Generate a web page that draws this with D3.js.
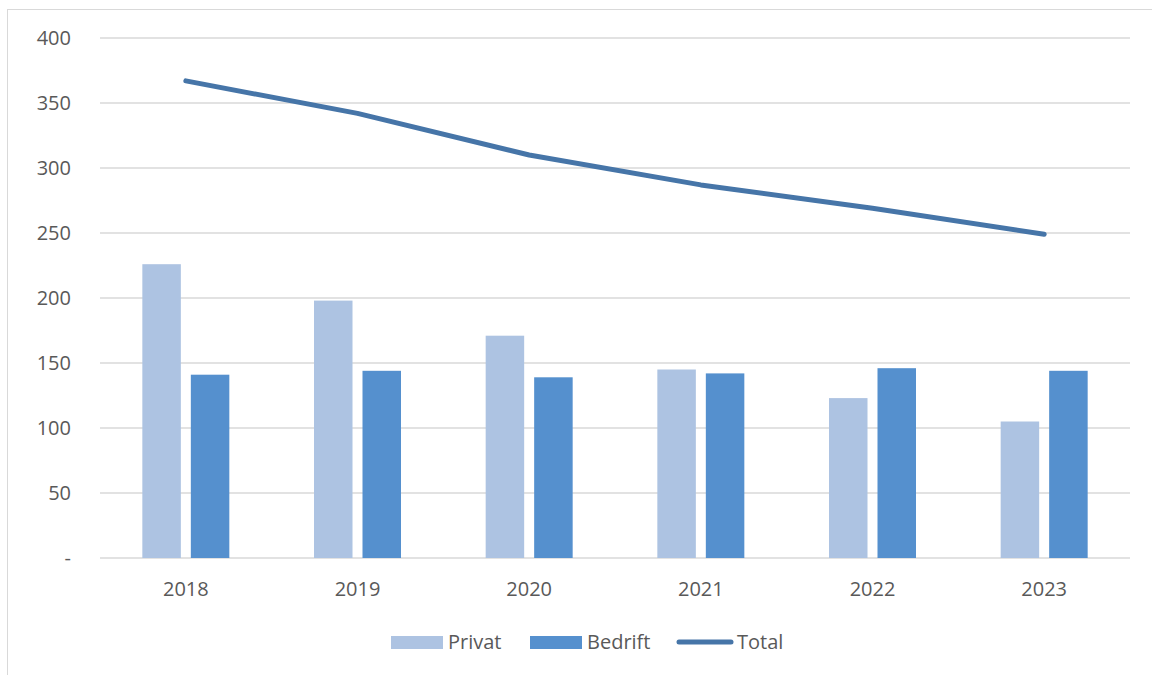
<!DOCTYPE html>
<html>
<head>
<meta charset="utf-8">
<script src="https://cdn.jsdelivr.net/npm/d3@7"></script>
<style>
  body { margin: 0; background: #fff; }
  text { font-family: "Open Sans", sans-serif; fill: #595959; }
</style>
</head>
<body>
<div id="chart"></div>
<script>
// Data
var years = ["2018", "2019", "2020", "2021", "2022", "2023"];
var privat = [226, 198, 171, 145, 123, 105];
var bedrift = [141, 144, 139, 142, 146, 144];
var total = [367, 342, 310, 287, 269, 249];
var yTicks = [0, 50, 100, 150, 200, 250, 300, 350, 400];

var svgWidth = 1152, svgHeight = 675;
var margin = { top: 38, bottom: 117, left: 100, right: 22 };
var width = svgWidth - margin.left - margin.right;
var height = svgHeight - margin.top - margin.bottom;

var svg = d3.select("#chart")
  .append("svg")
  .attr("width", svgWidth)
  .attr("height", svgHeight);

// outer frame (cropped on right and bottom)
svg.append("rect")
  .attr("x", 7.5).attr("y", 9.5)
  .attr("width", svgWidth + 10).attr("height", svgHeight + 10)
  .attr("fill", "none")
  .attr("stroke", "#d9d9d9")
  .attr("stroke-width", 1);

var chartGroup = svg.append("g")
  .attr("transform", `translate(${margin.left}, ${margin.top})`);

// Scales
var xScale = d3.scaleBand().domain(years).range([0, width]);
var yScale = d3.scaleLinear().domain([0, 400]).range([height, 0]);
var series = ["Privat", "Bedrift"];
var xSub = d3.scaleBand().domain(series)
  .range([xScale.bandwidth() / 2 - 43.5, xScale.bandwidth() / 2 + 43.5])
  .paddingInner(0.206);
var colors = { Privat: "#adc3e2", Bedrift: "#5590ce" };
var lineColor = "#4675a8";

// Gridlines
chartGroup.append("g")
  .selectAll("line")
  .data(yTicks)
  .enter()
  .append("line")
  .attr("x1", 0).attr("x2", width)
  .attr("y1", d => yScale(d)).attr("y2", d => yScale(d))
  .attr("stroke", "#d9d9d9")
  .attr("stroke-width", 1.5);

// Y labels
chartGroup.append("g")
  .selectAll("text")
  .data(yTicks)
  .enter()
  .append("text")
  .attr("x", -29)
  .attr("y", d => yScale(d))
  .attr("dy", "0.36em")
  .attr("text-anchor", "end")
  .attr("font-size", "20px")
  .text(d => d === 0 ? "-" : d);

// X labels
chartGroup.append("g")
  .selectAll("text")
  .data(years)
  .enter()
  .append("text")
  .attr("x", d => xScale(d) + xScale.bandwidth() / 2)
  .attr("y", height + 38)
  .attr("text-anchor", "middle")
  .attr("font-size", "20px")
  .text(d => d);

// Bars
var barData = [];
years.forEach(function(y, i) {
  barData.push({ year: y, key: "Privat", value: privat[i] });
  barData.push({ year: y, key: "Bedrift", value: bedrift[i] });
});

chartGroup.append("g")
  .selectAll("rect")
  .data(barData)
  .enter()
  .append("rect")
  .attr("x", d => xScale(d.year) + xSub(d.key))
  .attr("width", xSub.bandwidth())
  .attr("y", d => yScale(d.value))
  .attr("height", d => height - yScale(d.value))
  .attr("fill", d => colors[d.key]);

// Total line
var line = d3.line()
  .x((d, i) => xScale(years[i]) + xScale.bandwidth() / 2)
  .y(d => yScale(d));

chartGroup.append("path")
  .datum(total)
  .attr("d", line)
  .attr("fill", "none")
  .attr("stroke", lineColor)
  .attr("stroke-width", 5)
  .attr("stroke-linecap", "round")
  .attr("stroke-linejoin", "round");

// Legend
var legend = svg.append("g");
legend.append("rect").attr("x", 391).attr("y", 636).attr("width", 52).attr("height", 13).attr("fill", colors.Privat);
legend.append("text").attr("x", 448).attr("y", 649).attr("font-size", "20px").text("Privat");
legend.append("rect").attr("x", 530).attr("y", 636).attr("width", 52).attr("height", 13).attr("fill", colors.Bedrift);
legend.append("text").attr("x", 587).attr("y", 649).attr("font-size", "20px").text("Bedrift");
legend.append("line").attr("x1", 679).attr("x2", 731).attr("y1", 642).attr("y2", 642)
  .attr("stroke", lineColor).attr("stroke-width", 5).attr("stroke-linecap", "round");
legend.append("text").attr("x", 737).attr("y", 649).attr("font-size", "20px").text("Total");
</script>
</body>
</html>
